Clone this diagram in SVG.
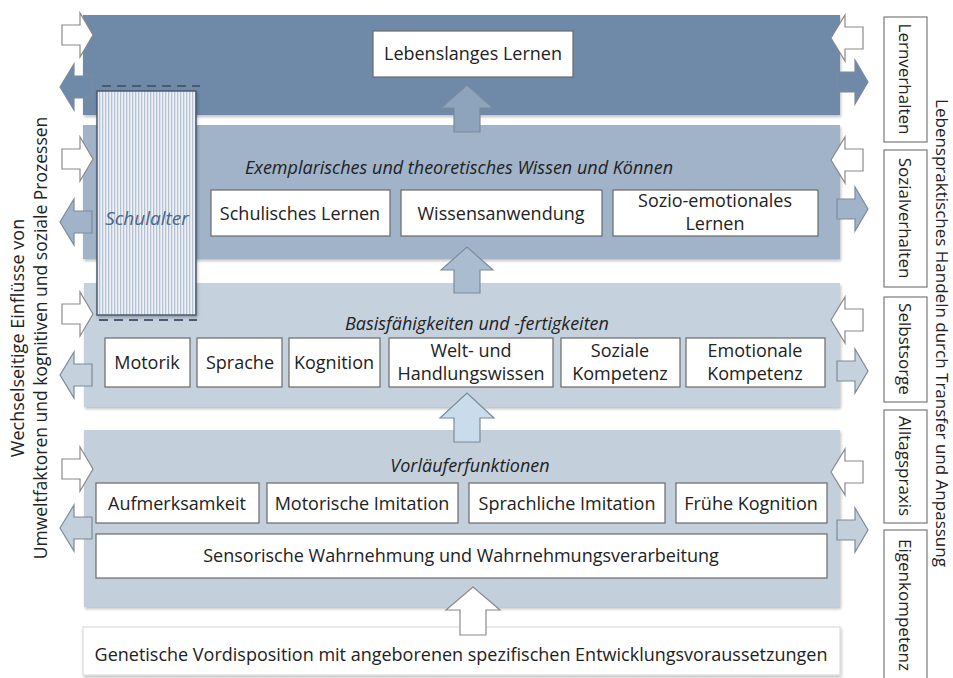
<svg xmlns="http://www.w3.org/2000/svg" width="953" height="678" viewBox="0 0 953 678">
<defs>
<style>
.t{font-family:"Open Sans","Noto Sans","Liberation Sans",sans-serif;font-size:18px;fill:#222;text-anchor:middle}
.ti{font-family:"Open Sans","Noto Sans","Liberation Sans",sans-serif;font-size:18px;fill:#222;text-anchor:middle;font-style:italic}
.rt{font-family:"Open Sans","Noto Sans","Liberation Sans",sans-serif;font-size:17px;fill:#222;text-anchor:middle}
.box{fill:#fff;stroke:#6a6a6a;stroke-width:1.2}
.rbox{fill:#fff;stroke:#7a7a7a;stroke-width:1.2}
.arrw{fill:#fff;stroke:#8a8a8a;stroke-width:1.2}
.arr{stroke:#7d8b99;stroke-width:1.2}
.dash{stroke:#4a5a70;stroke-width:2;stroke-dasharray:9,6;fill:none}
</style>
<filter id="sh" x="-5%" y="-10%" width="110%" height="130%">
<feDropShadow dx="1" dy="2" stdDeviation="1.5" flood-color="#000" flood-opacity="0.25"/>
</filter>
<pattern id="stripes" width="3" height="10" patternUnits="userSpaceOnUse">
<rect width="3" height="10" fill="#eef2f7"/>
<rect width="1.3" height="10" fill="#b4c2d3"/>
</pattern>
<path id="ar" d="M0,-10 H18 V-22 L31,0 L18,22 V10 H0 Z"/>
<path id="al" d="M0,0 L14,-23 V-11 H32 V11 H14 V23 Z"/>
</defs>
<rect width="953" height="678" fill="#fff"/>

<g id="band1">
<rect x="83" y="15" width="757" height="100" fill="#6e8aa8" filter="url(#sh)"/>
</g>
<g id="band2">
<rect x="83" y="125" width="757" height="134" fill="#a0b3c8" filter="url(#sh)"/>
</g>
<g id="band3">
<rect x="84" y="283" width="756" height="124" fill="#c5d2de" filter="url(#sh)"/>
</g>
<g id="band4">
<rect x="84" y="430" width="756" height="177" fill="#c3cfda" filter="url(#sh)"/>
</g>
<g id="genetik">
<rect x="83" y="627" width="757" height="48" fill="#fff" stroke="#d6d6d6" stroke-width="1" filter="url(#sh)"/>
<text class="t" x="461" y="661">Genetische Vordisposition mit angeborenen spezifischen Entwicklungsvoraussetzungen</text>
</g>

<g id="connectors">
<path class="arr" fill="#8ea4bc" d="M441,108 L467,85 L493,108 H480 V132 H454 V108 Z"/>
<path class="arr" fill="#aabdd0" d="M441,270 L467,247 L493,270 H480 V293 H454 V270 Z"/>
<path class="arr" fill="#c8dceb" d="M440,418 L467,393 L494,418 H480 V442 H454 V418 Z"/>
<path class="arrw" d="M446,610 L473,587 L500,610 H486 V635 H460 V610 Z"/>
<use href="#ar" class="arrw" transform="translate(62,35)"/>
<use href="#ar" class="arrw" transform="translate(62,159)"/>
<use href="#ar" class="arrw" transform="translate(62,314)"/>
<use href="#ar" class="arrw" transform="translate(62,469)"/>
<use href="#al" class="arr" fill="#6e8aa8" transform="translate(60,87)"/>
<use href="#al" class="arr" fill="#a0b3c8" transform="translate(60,222)"/>
<use href="#al" class="arr" fill="#c5d2de" transform="translate(60,375)"/>
<use href="#al" class="arr" fill="#c3cfda" transform="translate(60,528)"/>
<use href="#al" class="arrw" transform="translate(831,38)"/>
<use href="#al" class="arrw" transform="translate(831,160)"/>
<use href="#al" class="arrw" transform="translate(831,320)"/>
<use href="#al" class="arrw" transform="translate(831,472)"/>
<use href="#ar" class="arr" fill="#6e8aa8" transform="translate(837,82)"/>
<use href="#ar" class="arr" fill="#a0b3c8" transform="translate(837,209)"/>
<use href="#ar" class="arr" fill="#c5d2de" transform="translate(837,371)"/>
<use href="#ar" class="arr" fill="#c3cfda" transform="translate(837,530)"/>
</g>

<g id="lebenslang">
<rect class="box" x="373" y="31" width="200" height="46"/>
<text class="t" x="473" y="60">Lebenslanges Lernen</text>
</g>

<g id="title2"><text class="ti" x="459" y="174">Exemplarisches und theoretisches Wissen und Können</text></g>
<g id="schulisch">
<rect class="box" x="211" y="190" width="179" height="46"/>
<text class="t" x="300" y="220">Schulisches Lernen</text>
</g>
<g id="wissensanwendung">
<rect class="box" x="401" y="190" width="201" height="46"/>
<text class="t" x="501" y="220">Wissensanwendung</text>
</g>
<g id="sozioemotional">
<rect class="box" x="613" y="190" width="205" height="46"/>
<text class="t" x="715" y="207">Sozio-emotionales</text>
<text class="t" x="715" y="230">Lernen</text>
</g>

<g id="title3"><text class="ti" x="477" y="330">Basisfähigkeiten und -fertigkeiten</text></g>
<g id="motorik">
<rect class="box" x="105" y="338" width="85" height="49"/>
<text class="t" x="147" y="369">Motorik</text>
</g>
<g id="sprache">
<rect class="box" x="197" y="338" width="85" height="49"/>
<text class="t" x="240" y="369">Sprache</text>
</g>
<g id="kognition">
<rect class="box" x="289" y="338" width="91" height="49"/>
<text class="t" x="334" y="369">Kognition</text>
</g>
<g id="weltwissen">
<rect class="box" x="389" y="338" width="164" height="49"/>
<text class="t" x="471" y="357">Welt- und</text>
<text class="t" x="471" y="380">Handlungswissen</text>
</g>
<g id="sozialkomp">
<rect class="box" x="561" y="338" width="119" height="49"/>
<text class="t" x="620" y="357">Soziale</text>
<text class="t" x="620" y="380">Kompetenz</text>
</g>
<g id="emotionalkomp">
<rect class="box" x="686" y="338" width="139" height="49"/>
<text class="t" x="755" y="357">Emotionale</text>
<text class="t" x="755" y="380">Kompetenz</text>
</g>

<g id="title4"><text class="ti" x="470" y="472">Vorläuferfunktionen</text></g>
<g id="aufmerksamkeit">
<rect class="box" x="96" y="483" width="163" height="40"/>
<text class="t" x="177" y="510">Aufmerksamkeit</text>
</g>
<g id="motimitation">
<rect class="box" x="267" y="483" width="191" height="40"/>
<text class="t" x="362" y="510">Motorische Imitation</text>
</g>
<g id="sprimitation">
<rect class="box" x="469" y="483" width="196" height="40"/>
<text class="t" x="567" y="510">Sprachliche Imitation</text>
</g>
<g id="fruehkognition">
<rect class="box" x="676" y="483" width="151" height="40"/>
<text class="t" x="751" y="510">Frühe Kognition</text>
</g>
<g id="sensorisch">
<rect class="box" x="96" y="534" width="731" height="44"/>
<text class="t" x="461" y="562">Sensorische Wahrnehmung und Wahrnehmungsverarbeitung</text>
</g>

<g id="schulalter">
<line class="dash" x1="102" y1="86" x2="200" y2="86"/>
<rect x="97" y="91" width="99" height="224" fill="url(#stripes)" stroke="#4a5a70" stroke-width="1.5" filter="url(#sh)"/>
<line class="dash" x1="99" y1="320" x2="197" y2="320"/>
<text class="ti" x="147" y="225" style="fill:#4d6588;font-size:19px">Schulalter</text>
</g>

<g id="links-text">
<text class="t" transform="translate(24,338) rotate(-90)" style="font-size:18px">Wechselseitige Einflüsse von</text>
<text class="t" transform="translate(47,338) rotate(-90)" style="font-size:17.5px">Umweltfaktoren und kognitiven und soziale Prozessen</text>
</g>

<g id="lernverhalten">
<rect class="rbox" x="884" y="17" width="43" height="125"/>
<text class="rt" transform="translate(899,79) rotate(90)">Lernverhalten</text>
</g>
<g id="sozialverhalten">
<rect class="rbox" x="884" y="150" width="43" height="137"/>
<text class="rt" transform="translate(899,218) rotate(90)">Sozialverhalten</text>
</g>
<g id="selbstsorge">
<rect class="rbox" x="884" y="297" width="43" height="105"/>
<text class="rt" transform="translate(899,349) rotate(90)">Selbstsorge</text>
</g>
<g id="alltagspraxis">
<rect class="rbox" x="884" y="410" width="43" height="113"/>
<text class="rt" transform="translate(899,466) rotate(90)">Alltagspraxis</text>
</g>
<g id="eigenkompetenz">
<rect class="rbox" x="884" y="530" width="43" height="152"/>
<text class="rt" transform="translate(899,605) rotate(90)">Eigenkompetenz</text>
</g>
<g id="rechts-text">
<text class="rt" transform="translate(936,333) rotate(90)">Lebenspraktisches Handeln durch Transfer und Anpassung</text>
</g>
</svg>
